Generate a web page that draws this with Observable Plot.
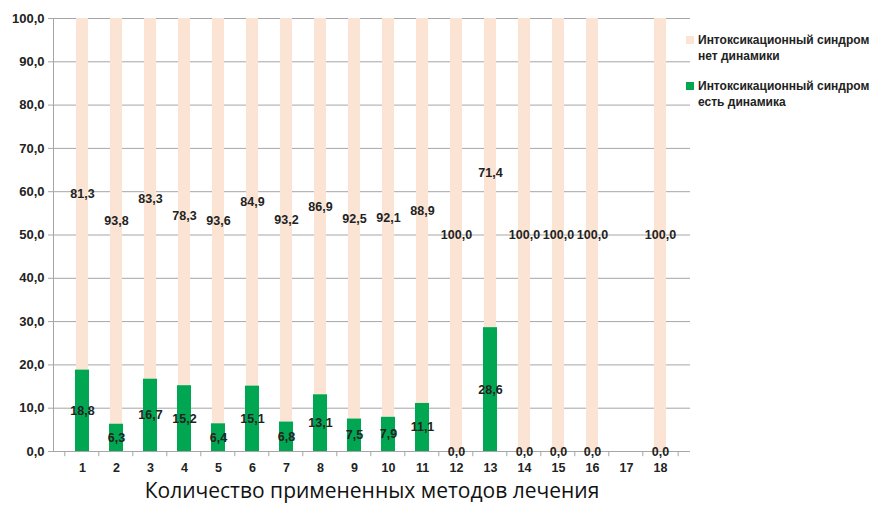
<!DOCTYPE html>
<html>
<head>
<meta charset="utf-8">
<script src="https://cdn.jsdelivr.net/npm/d3@7"></script>
<script src="https://cdn.jsdelivr.net/npm/@observablehq/plot@0.6"></script>
<style>
  body { margin: 0; background: #fff; overflow: hidden; }
  #wrap { position: relative; width: 871px; height: 508px; font-family: "Liberation Sans", Arial, sans-serif; }
  #legend { position: absolute; left: 686px; top: 32px; font-weight: bold; font-size: 12px; color: #222; line-height: 16px; white-space: nowrap; }
  .item { display: flex; align-items: flex-start; margin-bottom: 14px; }
  .sw { width: 8px; height: 8px; margin-top: 4px; margin-right: 4px; flex: none; }
</style>
</head>
<body>
<div id="wrap"></div>
<script>
const categories = ["1","2","3","4","5","6","7","8","9","10","11","12","13","14","15","16","17","18"];
const withDynamics = [18.8, 6.3, 16.7, 15.2, 6.4, 15.1, 6.8, 13.1, 7.5, 7.9, 11.1, 0.0, 28.6, 0.0, 0.0, 0.0, null, 0.0];
const noDynamics = [81.3, 93.8, 83.3, 78.3, 93.6, 84.9, 93.2, 86.9, 92.5, 92.1, 88.9, 100.0, 71.4, 100.0, 100.0, 100.0, null, 100.0];
const yTicks = [0, 10, 20, 30, 40, 50, 60, 70, 80, 90, 100];
const seriesNames = ["Интоксикационный синдром нет динамики", "Интоксикационный синдром есть динамика"];
const xTitle = "Количество примененных методов лечения";
const colors = ["#fbe4d4", "#00a651"];
const total = 100;

const rows = categories.map((c, i) => ({cat: c, g: withDynamics[i], n: noDynamics[i]}))
  .filter(d => d.g != null && d.n != null);

const fmt = v => v.toFixed(1).replace(".", ",");
const step = 637 / categories.length;

const chart = Plot.plot({
  width: 871,
  height: 508,
  marginLeft: 53,
  marginRight: 181,
  marginTop: 18,
  marginBottom: 57,
  style: {fontFamily: "'Liberation Sans', Arial, sans-serif", fontSize: "12px", fontWeight: "bold", color: "#222", background: "#fff"},
  x: {type: "band", domain: categories, padding: 0.58, label: null},
  y: {domain: [0, 100], label: null},
  marks: [
    Plot.gridY(yTicks, {stroke: "#a6a6a6", strokeOpacity: 1, strokeWidth: 1}),
    Plot.axisY(yTicks, {tickFormat: fmt, tickSize: 5, tickPadding: 4, stroke: "#a6a6a6", fill: "#222", fontWeight: "bold", fontSize: 13, label: null}),
    Plot.barY(rows, {x: "cat", y1: d => d.g, y2: () => total, fill: colors[0], insetLeft: 1, insetRight: 1}),
    Plot.barY(rows, {x: "cat", y1: 0, y2: "g", fill: colors[1]}),
    Plot.frame({anchor: "left", stroke: "#a6a6a6"}),
    Plot.ruleY([0], {stroke: "#a6a6a6"}),
    Plot.ruleX(categories, {x: d => d, dx: -step / 2, y1: 0, y2: -1.2, stroke: "#a6a6a6"}),
    Plot.ruleX(categories.slice(-1), {x: d => d, dx: step / 2, y1: 0, y2: -1.2, stroke: "#a6a6a6"}),
    Plot.axisX({tickSize: 0, tickPadding: 12, fontWeight: "bold", fontSize: 12.5, fill: "#222", label: null}),
    Plot.text(rows, {x: "cat", y: d => d.g + d.n / 2, text: d => fmt(d.n), fontWeight: "bold", fontSize: 12.5, fill: "#222"}),
    Plot.text(rows, {x: "cat", y: d => d.g / 2, text: d => fmt(d.g), fontWeight: "bold", fontSize: 12.5, fill: "#222"}),
    Plot.text([xTitle], {frameAnchor: "bottom", dy: 46, fontSize: 21, fontWeight: "normal", fontFamily: "'Open Sans', sans-serif", fill: "#111"})
  ]
});

const wrap = document.getElementById("wrap");
wrap.appendChild(chart);

const legend = document.createElement("div");
legend.id = "legend";
const lines = [["Интоксикационный синдром", "нет динамики"], ["Интоксикационный синдром", "есть динамика"]];
seriesNames.forEach((name, i) => {
  const item = document.createElement("div");
  item.className = "item";
  item.title = name;
  const sw = document.createElement("span");
  sw.className = "sw";
  sw.style.background = colors[i];
  const txt = document.createElement("div");
  txt.innerHTML = lines[i].join("<br>");
  item.appendChild(sw);
  item.appendChild(txt);
  legend.appendChild(item);
});
wrap.appendChild(legend);
</script>
</body>
</html>
